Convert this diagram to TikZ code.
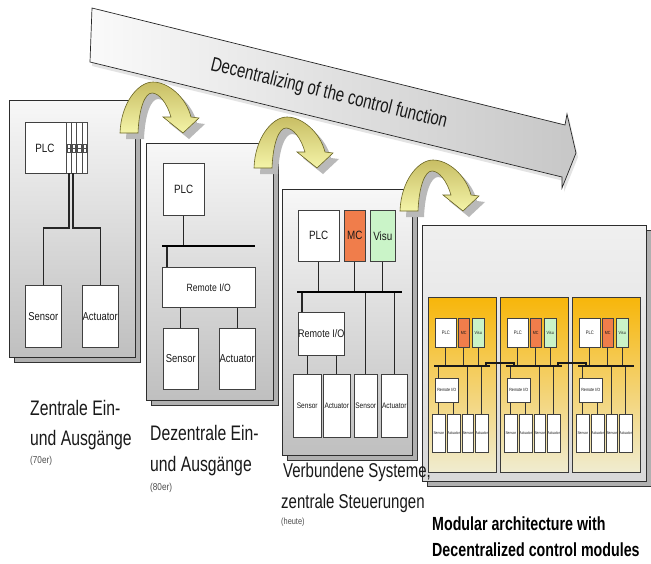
\documentclass[tikz,border=0pt]{standalone}
\usepackage{fontspec}
\setmainfont{Liberation Sans}
\newfontfamily\nar{Liberation Sans}[FakeStretch=0.82]
\newfontfamily\narr{Liberation Sans}[FakeStretch=0.75]
\newcommand\fsz[1]{\fontsize{#1pt}{#1pt}\selectfont}
\definecolor{mccol}{RGB}{240,125,75}
\definecolor{visucol}{RGB}{202,244,200}
\definecolor{modtop}{RGB}{247,182,10}
\definecolor{modmid}{RGB}{245,212,120}
\definecolor{modbot}{RGB}{240,236,208}
\definecolor{arrtop}{RGB}{200,190,100}
\definecolor{arrbot}{RGB}{244,244,168}
\definecolor{arredge}{RGB}{105,100,35}
\definecolor{ink}{RGB}{25,25,25}

% box helper: name, x1, y1, x2, y2, options, text
\newcommand\bx[7]{\node[box,minimum width={(#4)-(#2)},minimum height={(#5)-(#3)},#6] (#1) at (#2,#3) {\makebox[0pt]{#7}};}

\tikzset{
  bigarrow/.style={left color=gray!4, right color=gray!44, draw=gray!30!black, line width=0.7pt},
  panelshadow/.style={fill=gray!62, draw=gray!40!black, line width=0.4pt},
  panel/.style={top color=gray!6, bottom color=gray!50, draw=gray!35!black, line width=0.6pt},
  panelfour/.style={top color=gray!12, bottom color=gray!30, draw=gray!35!black, line width=0.6pt},
  module/.style={top color=modtop, middle color=modmid, bottom color=modbot, draw=gray!45!black, line width=0.5pt},
  box/.style={draw=black!75, fill=white, line width=0.5pt, inner sep=0pt, anchor=north west, text=ink},
  wire/.style={line width=1.1pt, black!85},
  bus/.style={line width=2.4pt, black},
  mwire/.style={line width=0.9pt, black!80},
  mbus/.style={line width=1.8pt, black!90},
  lbl/.style={font=\narr\fsz{21}, text=ink, anchor=base west, inner sep=0pt},
  lblsmall/.style={font=\nar\fsz{10}, text=black!70, anchor=base west, inner sep=0pt},
  lblbold/.style={font=\narr\bfseries\fsz{19}, text=black, anchor=base west, inner sep=0pt},
  bendshape/.style={insert path={(-33,50) .. controls (-32,20) and (-15,-1) .. (0,-1)
      .. controls (15,-1) and (33,14) .. (38,34) -- (46,35) -- (30,50) -- (10,34) -- (18,34)
      .. controls (14,20) and (6,10) .. (-1,10) .. controls (-8,10) and (-14,25) .. (-15,50) -- cycle}},
  bendfill/.style={top color=arrtop, bottom color=arrbot, draw=arredge, line width=0.6pt},
}

% curved step arrow, given the top point of its arc
\newcommand\bendarrow[2]{%
  \begin{scope}[shift={(#1,#2)}]
    \begin{scope}[shift={(6,6)}]
      \path[fill=gray!55, bendshape];
    \end{scope}
    \path[bendfill, bendshape];
  \end{scope}}

\begin{document}
\begin{tikzpicture}[x=1pt,y=-1pt]
\fill[white] (0,0) rectangle (651,563);
\useasboundingbox (0,0) rectangle (651,563);

% ---------- main trend arrow ----------
\fill[gray!22] (94,12) -- (567,129) -- (569,118) -- (578,157) -- (564,192) -- (564,181) -- (92,66) -- cycle;
\path[bigarrow] (92,8) -- (565,125) -- (567,114) -- (576,153) -- (562,188) -- (562,177) -- (90,62) -- cycle;
\node[font=\narr\fsz{20}, text=black!90, rotate=-13.8] (dtxt) at (329,94) {Decentralizing of the control function};

% ---------- stage 1: central I/O ----------
\path[panelshadow] (14,105) rectangle (140,362);
\path[panel] (9,100) rectangle (135,357);
\bx{plcA}{25}{122}{87}{173}{}{}
\node[font=\nar\fsz{12}, text=ink] (plcAtxt) at (45,148) {PLC};
\foreach \i in {0,...,3}{
  \draw[black!70, line width=0.4pt] ({66+5.25*\i},122) rectangle ({71.25+5.25*\i},173);
  \draw[black!70, line width=0.35pt] ({67+5.25*\i},144) rectangle ({70.25+5.25*\i},152);
  \draw[black!70, line width=0.3pt] ({67+5.25*\i},148) -- ({70.25+5.25*\i},148);
}
\bx{sensA}{25}{285}{61}{347}{font=\nar\fsz{11.5}}{Sensor}
\bx{actA}{82}{285}{118}{347}{font=\nar\fsz{11.5}}{Actuator}
\coordinate (tA1) at (69,173);
\coordinate (tA2) at (73,173);
\draw[wire] (tA1) -- ++(0,55) -| (sensA.north);
\draw[wire] (tA2) -- ++(0,55) -| (actA.north);

% ---------- stage 2: remote I/O ----------
\path[panelshadow] (151,148) rectangle (278,405);
\path[panel] (146,143) rectangle (273,400);
\bx{plcB}{163}{163}{204}{215}{font=\nar\fsz{12}}{PLC}
\coordinate (busBl) at (162,246);
\coordinate (busBr) at (255,246);
\bx{rioB}{162}{267}{255}{307}{font=\nar\fsz{10.5}}{Remote I/O}
\bx{sensB}{163}{328}{198}{389}{font=\nar\fsz{11.5}}{Sensor}
\bx{actB}{219}{328}{255}{389}{font=\nar\fsz{11.5}}{Actuator}
\draw[wire] (plcB.south) -- (plcB.south |- busBl);
\draw[wire] ([xshift=5pt]rioB.north west) -- ([xshift=5pt]rioB.north west |- busBl);
\draw[bus] (busBl) -- (busBr);
\draw[wire] (sensB.north) -- (sensB.north |- rioB.south);
\draw[wire] (actB.north) -- (actB.north |- rioB.south);

% ---------- stage 3: connected systems ----------
\path[panelshadow] (287,194) rectangle (417,460);
\path[panel] (282,189) rectangle (412,455);
\bx{plcC}{298}{210}{339}{261}{font=\nar\fsz{12}}{PLC}
\bx{mcC}{344}{210}{365}{261}{fill=mccol,font=\nar\fsz{12}}{MC}
\bx{visuC}{370}{210}{395}{261}{fill=visucol,font=\nar\fsz{12}}{Visu}
\coordinate (busCl) at (297,292);
\coordinate (busCr) at (402,292);
\bx{rioC}{298}{312}{344}{355}{font=\nar\fsz{11}}{Remote I/O}
\bx{sensC1}{293}{374}{321}{437}{font=\nar\fsz{8}}{Sensor}
\bx{actC1}{323}{374}{350}{437}{font=\nar\fsz{8}}{Actuator}
\bx{sensC2}{354}{374}{377}{437}{font=\nar\fsz{8}}{Sensor}
\bx{actC2}{381}{374}{407}{437}{font=\nar\fsz{8}}{Actuator}
\foreach \n in {plcC,mcC,visuC}{\draw[wire] (\n.south) -- (\n.south |- busCl);}
\draw[wire] ([xshift=4pt]rioC.north west) -- ([xshift=4pt]rioC.north west |- busCl);
\draw[wire] (sensC2.north) -- (sensC2.north |- busCl);
\draw[wire] (actC2.north) -- (actC2.north |- busCl);
\draw[bus] (busCl) -- (busCr);
\draw[wire] (sensC1.north) -- (sensC1.north |- rioC.south);
\draw[wire] (actC1.north) -- (actC1.north |- rioC.south);

% ---------- stage 4: modular architecture ----------
\path[panelshadow] (427,230) rectangle (651,486);
\path[panelfour] (422,225) rectangle (646,481);
\foreach \k/\mx in {1/428,2/500,3/572}{
  \path[module] (\mx,297) rectangle ({\mx+68},472);
  \bx{plcD\k}{\mx+7}{318}{\mx+28}{347}{font=\nar\fsz{5}}{PLC}
  \bx{mcD\k}{\mx+30}{318}{\mx+41}{347}{fill=mccol,font=\nar\fsz{4.5}}{MC}
  \bx{visuD\k}{\mx+44}{318}{\mx+56}{347}{fill=visucol,font=\nar\fsz{4.5}}{Visu}
  \coordinate (busD\k l) at (\mx+6,366);
  \coordinate (busD\k r) at (\mx+62,366);
  \bx{rioD\k}{\mx+7}{378}{\mx+30}{402}{font=\nar\fsz{4.5}}{Remote I/O}
  \bx{sD\k a}{\mx+4}{414}{\mx+17}{452}{font=\nar\fsz{4}}{Sensor}
  \bx{aD\k a}{\mx+19}{414}{\mx+32}{452}{font=\nar\fsz{4}}{Actuator}
  \bx{sD\k b}{\mx+34}{414}{\mx+45}{452}{font=\nar\fsz{4}}{Sensor}
  \bx{aD\k b}{\mx+47}{414}{\mx+60}{452}{font=\nar\fsz{4}}{Actuator}
  \foreach \n in {plcD\k,mcD\k,visuD\k}{\draw[mwire] (\n.south) -- (\n.south |- busD\k l);}
  \draw[mwire] ([xshift=3pt]rioD\k.north west) -- ([xshift=3pt]rioD\k.north west |- busD\k l);
  \draw[mwire] (sD\k b.north) -- (sD\k b.north |- busD\k l);
  \draw[mwire] (aD\k b.north) -- (aD\k b.north |- busD\k l);
  \draw[mbus] (busD\k l) -- (busD\k r);
  \draw[mwire] (sD\k a.north) -- (sD\k a.north |- rioD\k.south);
  \draw[mwire] (aD\k a.north) -- (aD\k a.north |- rioD\k.south);
}
% bus links between the modules
\draw[mbus] ([xshift=-4pt]busD1r) -- ++(0,-3) -| ([xshift=8pt]busD2l);
\draw[mbus] ([xshift=-4pt]busD2r) -- ++(0,-3) -| ([xshift=8pt]busD3l);

% ---------- step arrows ----------
\bendarrow{153}{83}
\bendarrow{287}{118}
\bendarrow{433}{161}

% ---------- captions ----------
\node[lbl] (cap1a) at (30,415) {Zentrale Ein-};
\node[lbl] (cap1b) at (30,445) {und Ausgänge};
\node[lblsmall] (cap1c) at (30,463) {(70er)};
\node[lbl] (cap2a) at (150,440) {Dezentrale Ein-};
\node[lbl] (cap2b) at (150,471) {und Ausgänge};
\node[lblsmall] (cap2c) at (150,490) {(80er)};
\node[lbl, font=\narr\fsz{20}] (cap3a) at (283,477) {Verbundene Systeme,};
\node[lbl, font=\narr\fsz{20}] (cap3b) at (281,508) {zentrale Steuerungen};
\node[lblsmall, font=\nar\fsz{9}] (cap3c) at (281,524) {(heute)};
\node[lblbold] (cap4a) at (432,530) {Modular architecture with};
\node[lblbold] (cap4b) at (432,556) {Decentralized control modules};
\end{tikzpicture}
\end{document}
